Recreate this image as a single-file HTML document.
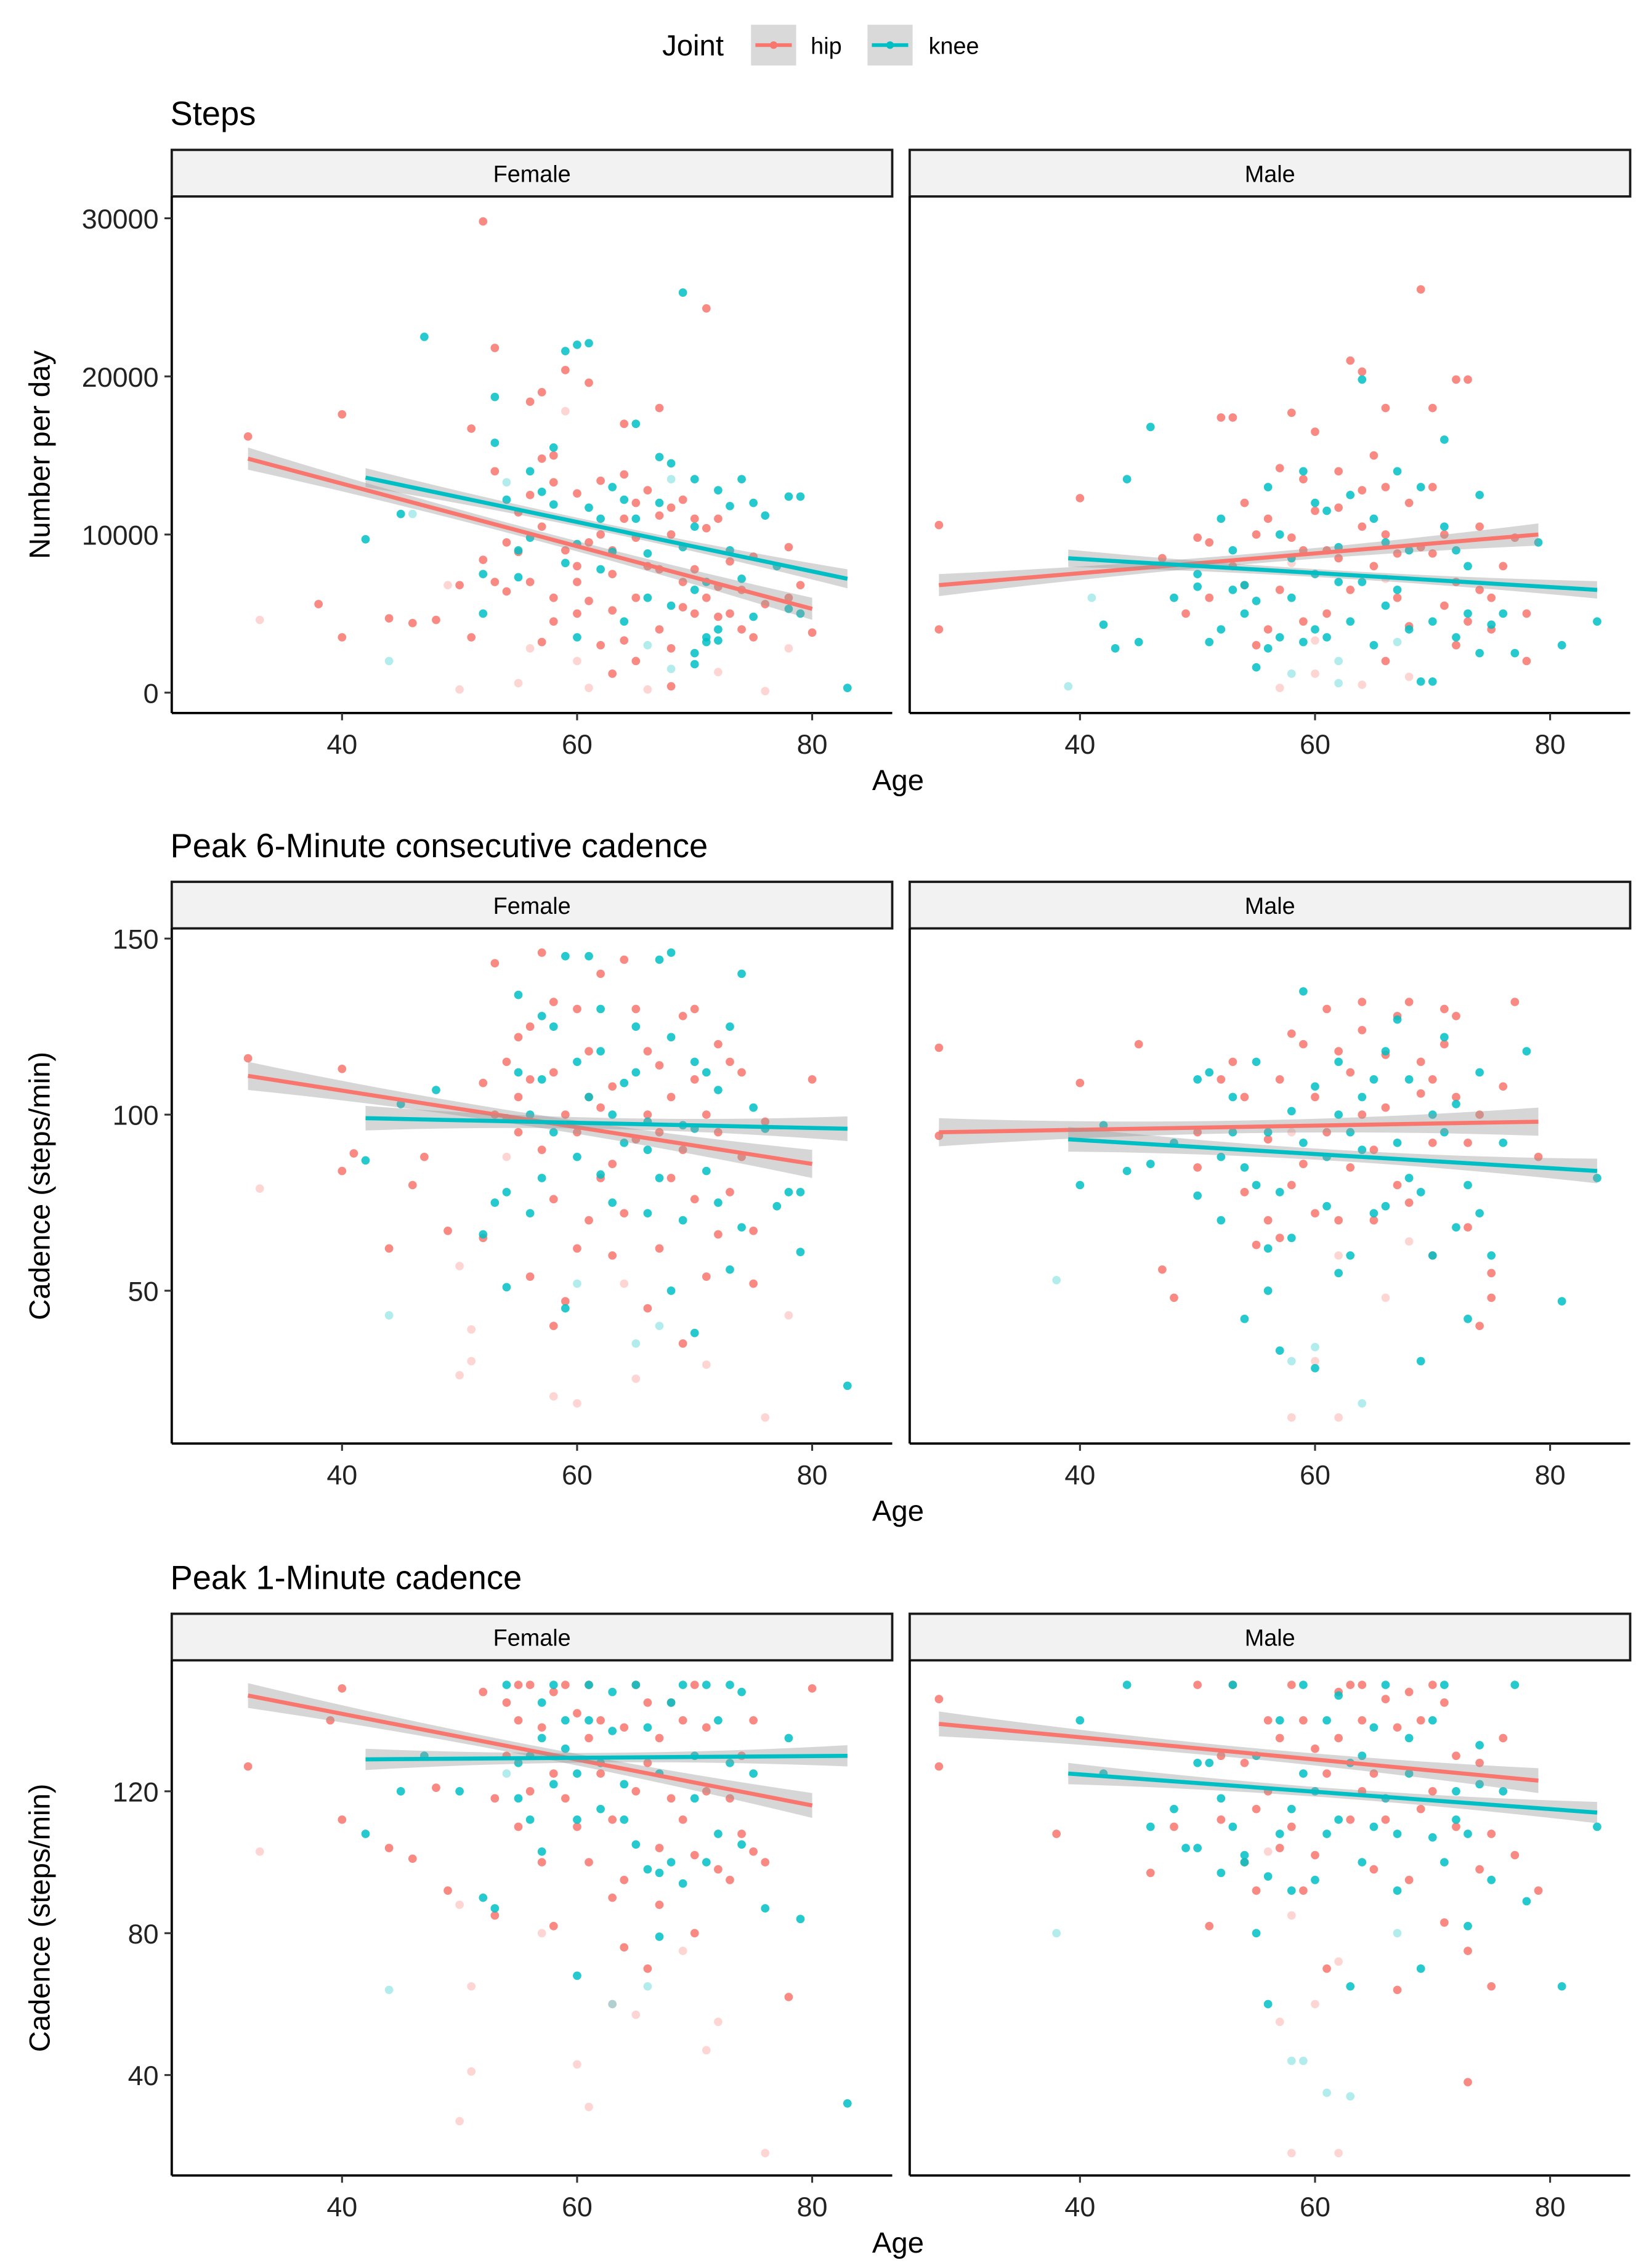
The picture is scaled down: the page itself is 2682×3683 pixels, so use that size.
<!DOCTYPE html>
<html><head><meta charset="utf-8"><style>
html,body{margin:0;padding:0;background:#fff}
svg{display:block}
text{font-family:"Liberation Sans",Arial,sans-serif}
</style></head><body>
<svg id="chart" xmlns="http://www.w3.org/2000/svg" width="2682" height="3683" viewBox="0 0 1135 1558.6" preserveAspectRatio="none">
<rect x="0" y="0" width="1135" height="1559" fill="#fff"/>
<g>
<text x="455" y="38" font-size="20" fill="#000">Joint</text>
<g>
<rect x="516" y="17" width="31" height="28" fill="#d9d9d9"/>
<line x1="519" y1="31" x2="544" y2="31" stroke="#F8766D" stroke-width="2.5"/>
<circle cx="531.5" cy="31" r="2.6" fill="#F8766D"/>
<text x="557" y="37" font-size="16">hip</text></g>
<g>
<rect x="596" y="17" width="31" height="28" fill="#d9d9d9"/>
<line x1="599" y1="31" x2="624" y2="31" stroke="#00BFC4" stroke-width="2.5"/>
<circle cx="611.5" cy="31" r="2.6" fill="#00BFC4"/>
<text x="638" y="37" font-size="16">knee</text></g>
</g>
<g id="plots"></g>
</svg>
<script>
const F=1;
// ---- Steps data [age, value, faint]
const stepsFemaleHip=[[32,16200],[33,4600,F],[38,5600],[40,17600],[40,3500],[44,4700],[46,4400],[50,6800],[50,200,F],[51,16700],[52,29800],[53,21800],[53,14000],[54,9500],[55,11400],[56,18400],[57,19000],[57,14800],[58,13300],[58,6000],[59,9000],[60,12600],[60,5000],[61,19600],[62,10000],[62,3000],[63,7500],[64,17000],[64,11000],[65,9800],[65,2000],[66,12800],[67,18000],[67,4000],[68,11700],[69,12200],[69,7000],[70,5000],[71,24300],[71,10400],[72,6700],[73,8300],[74,4000],[75,3500],[76,5600],[78,6000],[80,3800],[55,600,F],[61,300,F],[66,200,F],[76,100,F],[57,3200],[63,5200],[68,2800],[60,8000],[52,8400],[56,7000],[58,4500],[64,3300],[70,11000],[72,4800],[61,9500],[54,6400],[48,4600],[49,6800,F],[51,3500],[53,7000],[55,8900],[56,12500],[57,10500],[58,15000],[59,20400],[59,17800,F],[60,7000],[61,5800],[62,13400],[63,9000],[64,13800],[65,6000],[65,12000],[66,8000],[67,7800],[67,11200],[68,10000],[69,5400],[70,7800],[71,6000],[72,11000],[73,5000],[74,6500],[75,8600],[78,9200],[79,6800],[56,2800,F],[60,2000,F],[63,1200],[68,400],[72,1300,F],[78,2800,F]];
const stepsFemaleKnee=[[42,9700],[44,2000,F],[45,11300],[47,22500],[52,5000],[53,18700],[54,12200],[55,7300],[56,14000],[58,15500],[59,21600],[60,22000],[61,22100],[62,7800],[63,13000],[64,4500],[65,17000],[66,8800],[67,14900],[68,5500],[68,14500],[69,25300],[70,6500],[70,10500],[71,3500],[72,12800],[73,9000],[74,13500],[75,4800],[77,8000],[78,12400],[79,12400],[83,300],[66,3000,F],[68,1500,F],[60,3500],[62,11000],[72,4000],[56,9800],[64,12200],[70,2500],[46,11300,F],[52,7500],[53,15800],[54,13300,F],[55,9000],[57,12700],[58,11900],[59,8200],[60,9400],[61,11700],[63,8900],[65,11000],[66,6000],[67,12000],[68,13500,F],[69,9200],[70,13500],[71,7000],[72,3300],[73,11800],[74,7200],[75,12000],[76,11200],[78,5300],[79,5000],[70,1800],[71,3200]];
const stepsMaleHip=[[28,10600],[28,4000],[40,12300],[47,8500],[50,9800],[51,6000],[52,17400],[53,17400],[54,12000],[55,10000],[56,4000],[57,14200],[58,17700],[59,9000],[60,16500],[61,5000],[62,11700],[63,21000],[64,20300],[64,10500],[65,8000],[66,18000],[66,13000],[67,6000],[68,12000],[69,25500],[70,18000],[71,10000],[72,19800],[73,19800],[74,6500],[75,4000],[76,8000],[78,5000],[57,300,F],[60,1200,F],[64,500,F],[68,1000,F],[62,8500],[59,13500],[70,8800],[55,3000],[66,2000],[72,3000],[49,5000],[51,9500],[53,8000],[54,6800],[56,11000],[57,6500],[58,9800],[59,4500],[60,11500],[61,9000],[62,14000],[63,6500],[64,12800],[65,15000],[66,10000],[67,8800],[68,4200],[69,9200],[70,13000],[71,5500],[72,7000],[73,4500],[74,10500],[75,6000],[77,9800],[78,2000],[58,8200,F],[66,7200,F],[60,3300,F]];
const stepsMaleKnee=[[39,400,F],[42,4300],[43,2800],[44,13500],[46,16800],[48,6000],[50,7500],[51,3200],[52,11000],[53,6500],[54,5000],[55,1600],[56,13000],[57,3500],[58,8500],[59,14000],[60,4000],[61,11500],[62,7000],[63,12500],[64,19800],[65,3000],[66,9500],[67,14000],[68,4000],[69,13000],[70,700],[71,16000],[72,9000],[73,5000],[74,12500],[75,4300],[77,2500],[79,9500],[81,3000],[84,4500],[58,1200,F],[62,600,F],[54,6800],[60,7500],[66,5500],[41,6000,F],[45,3200],[50,6700],[52,4000],[53,9000],[55,5800],[56,2800],[57,10000],[58,6000],[59,3200],[60,12000],[61,3500],[62,9200],[63,4500],[64,7000],[65,11000],[67,6500],[68,9000],[69,700],[70,4500],[71,10500],[72,3500],[73,8000],[74,2500],[76,5000],[62,2000,F],[67,3200,F]];
// ---- Peak 6-minute cadence
const cad6FemaleHip=[[32,116],[33,79,F],[40,113],[40,84],[41,89],[44,62],[46,80],[47,88],[49,67],[50,26,F],[50,57,F],[51,39,F],[52,109],[53,143],[54,99],[55,122],[56,110],[56,54],[57,146],[58,112],[58,76],[59,47],[60,130],[60,18,F],[61,70],[62,102],[63,60],[63,86],[64,144],[65,93],[66,118],[66,45],[67,114],[68,82],[69,128],[69,35],[70,110],[71,54],[71,29,F],[72,95],[73,78],[74,112],[75,67],[76,14,F],[78,43,F],[80,110],[58,40],[65,25,F],[55,95],[61,105],[67,95],[72,120],[51,30,F],[52,65],[53,100],[54,115],[55,105],[56,125],[57,90],[58,132],[59,100],[60,95],[60,62],[61,118],[62,82],[62,140],[63,108],[64,72],[65,130],[66,100],[67,62],[68,105],[69,90],[70,76],[70,130],[71,100],[72,66],[73,115],[74,88],[75,52],[76,98],[54,88,F],[64,52,F],[58,20,F]];
const cad6FemaleKnee=[[42,87],[44,43,F],[45,103],[48,107],[52,66],[53,75],[54,51],[55,134],[56,100],[57,82],[58,125],[59,45],[59,145],[60,115],[61,145],[62,83],[63,100],[64,109],[65,125],[66,72],[67,144],[68,146],[68,50],[69,97],[70,115],[70,38],[71,84],[72,107],[73,56],[74,140],[75,102],[77,74],[78,78],[79,78],[79,61],[83,23],[65,35,F],[62,130],[57,110],[66,90],[54,78],[55,112],[56,72],[57,128],[58,95],[60,88],[61,105],[62,118],[63,75],[64,92],[65,112],[66,98],[67,82],[68,122],[69,70],[70,96],[71,112],[72,75],[73,125],[74,68],[76,96],[60,52,F],[67,40,F]];
const cad6MaleHip=[[28,119],[28,94],[40,109],[45,120],[47,56],[48,48],[50,95],[52,110],[53,115],[54,78],[55,63],[56,93],[57,65],[58,123],[59,86],[60,105],[61,130],[62,70],[63,112],[64,132],[65,90],[66,117],[67,80],[68,132],[69,106],[70,60],[71,130],[72,128],[73,92],[74,40],[75,55],[77,132],[79,88],[58,14,F],[60,30,F],[62,14,F],[66,48,F],[64,100],[70,110],[50,85],[54,105],[56,70],[57,110],[58,80],[59,120],[60,72],[61,95],[62,118],[63,85],[64,124],[65,70],[66,102],[67,128],[68,75],[69,115],[70,92],[71,120],[72,105],[73,68],[74,100],[75,48],[76,108],[58,95,F],[62,60,F],[68,64,F]];
const cad6MaleKnee=[[38,53,F],[40,80],[42,97],[44,84],[46,86],[48,92],[50,77],[51,112],[52,88],[53,105],[54,42],[55,80],[56,62],[57,33],[58,101],[59,135],[60,28],[61,74],[62,115],[63,60],[64,90],[65,110],[66,74],[67,127],[68,82],[69,30],[70,100],[71,122],[72,68],[73,42],[74,112],[75,60],[78,118],[81,47],[84,82],[60,34,F],[64,18,F],[56,95],[62,100],[50,110],[52,70],[53,95],[54,85],[55,115],[56,50],[57,78],[58,65],[59,92],[60,108],[61,88],[62,55],[63,95],[64,105],[65,72],[66,118],[67,92],[68,110],[69,78],[70,60],[71,95],[72,103],[73,80],[74,72],[76,92],[58,30,F]];
// ---- Peak 1-minute cadence
const cad1FemaleHip=[[32,127],[33,103,F],[40,149],[39,140],[40,112],[44,104],[46,101],[48,121],[49,92],[50,27,F],[51,65,F],[51,41,F],[52,148],[53,85],[54,130],[55,150],[56,120],[57,100],[58,82],[59,150],[60,110],[60,43,F],[61,31,F],[62,140],[63,90],[64,76],[65,150],[65,57,F],[66,128],[67,104],[68,145],[69,112],[70,150],[70,80],[71,47,F],[72,55,F],[73,95],[74,130],[75,103],[76,18,F],[78,62],[80,149],[58,125],[66,70],[61,135],[55,140],[71,120],[50,88,F],[53,118],[54,145],[55,110],[56,150],[57,138],[58,148],[59,118],[60,142],[61,100],[61,150],[62,125],[63,112],[64,138],[64,95],[65,120],[66,145],[67,88],[67,135],[68,118],[69,140],[70,102],[71,138],[72,98],[73,118],[74,108],[75,140],[76,100],[57,80,F],[63,60,F],[69,75,F]];
const cad1FemaleKnee=[[42,108],[44,64,F],[45,120],[47,130],[50,120],[52,90],[53,87],[54,150],[55,118],[56,130],[57,103],[58,150],[59,140],[60,68],[60,125],[61,150],[62,115],[63,137],[64,112],[65,150],[66,98],[67,79],[68,145],[69,94],[70,130],[71,150],[72,108],[73,150],[74,105],[76,87],[78,135],[79,84],[83,32],[63,60,F],[67,97],[57,145],[55,128],[56,112],[57,135],[58,122],[59,132],[60,112],[61,140],[62,128],[63,148],[64,122],[65,105],[66,138],[67,125],[68,100],[69,150],[70,118],[71,100],[72,140],[73,128],[74,148],[75,125],[54,125,F],[66,65,F]];
const cad1MaleHip=[[28,146],[28,127],[38,108],[46,97],[48,110],[50,150],[51,82],[52,130],[53,150],[54,100],[55,115],[56,140],[57,104],[58,150],[59,92],[60,132],[61,70],[62,148],[63,150],[64,120],[65,98],[66,146],[67,64],[68,148],[69,115],[70,150],[71,83],[72,130],[73,38],[74,98],[75,65],[77,102],[79,92],[58,18,F],[60,60,F],[62,18,F],[57,55,F],[64,140],[52,112],[54,128],[55,92],[56,120],[57,135],[58,110],[59,140],[60,102],[61,125],[62,135],[63,112],[64,150],[65,125],[66,112],[67,138],[68,95],[69,140],[70,120],[71,145],[72,110],[73,75],[74,128],[75,108],[76,135],[56,103,F],[58,85,F],[62,72,F]];
const cad1MaleKnee=[[38,80,F],[40,140],[42,125],[44,150],[46,110],[48,115],[50,104],[51,128],[52,97],[53,150],[54,100],[55,80],[56,60],[57,108],[58,92],[59,150],[60,120],[61,108],[62,147],[63,65],[64,130],[65,110],[66,150],[67,92],[68,135],[69,70],[70,107],[71,150],[72,120],[73,82],[74,133],[75,95],[77,150],[78,89],[81,65],[84,110],[59,44,F],[61,35,F],[63,34,F],[49,104],[50,128],[52,118],[53,110],[54,102],[55,130],[56,96],[57,140],[58,115],[59,125],[60,95],[61,140],[62,112],[63,128],[64,100],[65,138],[66,118],[67,108],[68,125],[70,140],[71,100],[72,112],[73,108],[74,122],[76,120],[58,44,F],[67,80,F]];
// ---- fitted lines [x0,y0,x1,y1,bandHalfWidth]
const stepsFits={fh:[32,14800,80,5300,700],fk:[42,13600,83,7200,600],mh:[28,6800,79,10000,700],mk:[39,8500,84,6500,550]};
const cad6Fits={fh:[32,111,80,86,4],fk:[42,99,83,96,3.5],mh:[28,95,79,98,4],mk:[39,93,84,84,3.5]};
const cad1Fits={fh:[32,147,80,116,3.5],fk:[42,129,83,130,3],mh:[28,139,79,123,3.5],mk:[39,125,84,114,3]};
// ---- ticks
const xTicks=[40,60,80];
const stepsTicks=[0,10000,20000,30000];
const cad6Ticks=[50,100,150];
const cad1Ticks=[40,80,120];

const NS='http://www.w3.org/2000/svg';
const HIP='#F8766D',KNEE='#00BFC4';
function mk(tag,attrs,parent){const e=document.createElementNS(NS,tag);for(const k in attrs)e.setAttribute(k,attrs[k]);parent.appendChild(e);return e;}
const root=document.getElementById('plots');
function xs(a,off){return 235+(a-40)*8.075+off;}
const rows=[
 {title:'Steps',ty:78,top:135,bot:490,v0:0,p0:476,v1:30000,p1:150,ticks:stepsTicks,ylab:'Number per day',data:[stepsFemaleHip,stepsFemaleKnee,stepsMaleHip,stepsMaleKnee],fits:stepsFits,name:'steps'},
 {title:'Peak 6-Minute consecutive cadence',ty:581,top:638,bot:992,v0:50,p0:887,v1:150,p1:645,ticks:cad6Ticks,ylab:'Cadence (steps/min)',data:[cad6FemaleHip,cad6FemaleKnee,cad6MaleHip,cad6MaleKnee],fits:cad6Fits,name:'cadence6'},
 {title:'Peak 1-Minute cadence',ty:1084,top:1141,bot:1495,v0:40,p0:1426,v1:120,p1:1231,ticks:cad1Ticks,ylab:'Cadence (steps/min)',data:[cad1FemaleHip,cad1FemaleKnee,cad1MaleHip,cad1MaleKnee],fits:cad1Fits,name:'cadence1'}
];
rows.forEach(r=>{
 const g=mk('g',{},root);
 
 
 const ys=v=>r.p0+(v-r.v0)*(r.p1-r.p0)/(r.v1-r.v0);
 const t=mk('text',{x:117,y:r.ty+8,'font-size':23},g);t.textContent=r.title;
 
 
 const yl=mk('text',{transform:`translate(34,${(r.top+r.bot)/2}) rotate(-90)`,'text-anchor':'middle','font-size':20},g);yl.textContent=r.ylab;
 
 
 const xl=mk('text',{x:617,y:r.bot+53,'text-anchor':'middle','font-size':20},g);xl.textContent='Age';
 
 
 ['Female','Male'].forEach((sex,si)=>{
  const off=si*507, L=118+off, R=613+off;
  const pg=mk('g',{},g);
  
  
  const st=mk('rect',{x:L,y:r.top-32,width:R-L,height:32,fill:'#f2f2f2',stroke:'#1a1a1a','stroke-width':1.6},pg);
  
  
  const stt=mk('text',{x:(L+R)/2,y:r.top-10,'text-anchor':'middle','font-size':16},pg);stt.textContent=sex;
  
  
  const sets=[[r.data[si*2],HIP],[r.data[si*2+1],KNEE]];
  sets.forEach(([arr,col])=>{arr.forEach(p=>{
    const c=mk('circle',{cx:xs(p[0],off),cy:ys(p[1]),r:2.9,fill:col,'fill-opacity':p[2]?0.3:0.85},pg);
    
    
  });});
  const keys=si?['mh','mk']:['fh','fk'];
  keys.forEach((k,ki)=>{
   const f=r.fits[k],col=ki?KNEE:HIP;
   const N=20,up=[],dn=[],mid=(f[0]+f[2])/2,half=(f[2]-f[0])/2;
   for(let i=0;i<=N;i++){const a=f[0]+(f[2]-f[0])*i/N;const v=f[1]+(f[3]-f[1])*i/N;const u=(a-mid)/half;const w=f[4]*(0.45+0.55*u*u);
    up.push(xs(a,off)+','+ys(v+w));dn.unshift(xs(a,off)+','+ys(v-w));}
   const b=mk('polygon',{points:up.concat(dn).join(' '),fill:'#999','fill-opacity':0.4},pg);
   
   
   const l=mk('line',{x1:xs(f[0],off),y1:ys(f[1]),x2:xs(f[2],off),y2:ys(f[3]),stroke:col,'stroke-width':2.8},pg);
   
   
  });
  mk('line',{x1:L,y1:r.top,x2:L,y2:r.bot,stroke:'#000','stroke-width':1.6},pg);
  mk('line',{x1:L,y1:r.bot,x2:R,y2:r.bot,stroke:'#000','stroke-width':1.6},pg);
  xTicks.forEach(v=>{const x=xs(v,off);mk('line',{x1:x,y1:r.bot,x2:x,y2:r.bot+5,stroke:'#333','stroke-width':1.3},pg);
   const tt=mk('text',{x:x,y:r.bot+28,'text-anchor':'middle','font-size':19,fill:'#222'},pg);tt.textContent=v;
   
   });
  if(si===0){r.ticks.forEach(v=>{const y=ys(v);mk('line',{x1:L-5,y1:y,x2:L,y2:y,stroke:'#333','stroke-width':1.3},pg);
   const tt=mk('text',{x:L-9,y:y+7,'text-anchor':'end','font-size':19,fill:'#222'},pg);tt.textContent=v;
   
   });}
 });
});
</script>
</body></html>
